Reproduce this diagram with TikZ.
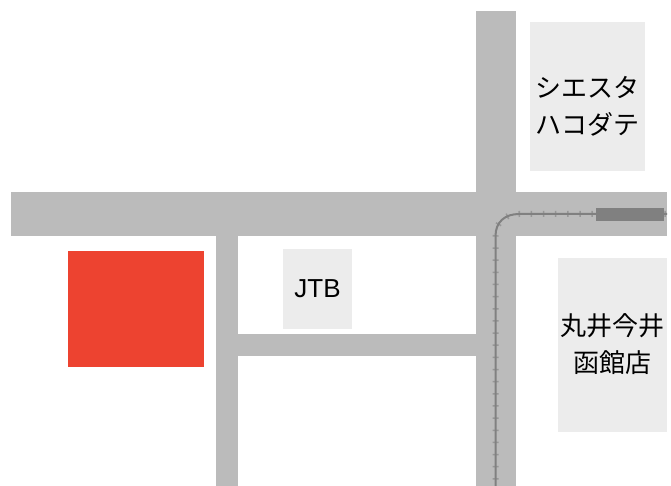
\documentclass[tikz,border=0pt]{standalone}
\usepackage{fontspec}
\setmainfont{Liberation Sans}
\newfontfamily\cjk{Noto Sans CJK JP}
\definecolor{road}{HTML}{BBBBBB}
\definecolor{bldg}{HTML}{ECECEC}
\definecolor{rail}{HTML}{808080}
\definecolor{redblock}{HTML}{ED4330}
\tikzset{
  roadbox/.style={fill=road,draw=none},
  bldgbox/.style={fill=bldg,draw=none,inner sep=0pt,text=black,align=center},
  jplabel/.style={inner sep=0pt,align=center,font=\cjk\fontsize{26}{37}\selectfont},
  lalabel/.style={font=\fontsize{26}{30}\selectfont}
}
\begin{document}
\begin{tikzpicture}[x=1pt,y=-1pt]
\useasboundingbox (0,0) rectangle (671,486);
\fill[roadbox] (11,192) rectangle (667,236);
\fill[roadbox] (476,11) rectangle (516,486);
\fill[roadbox] (216,236) rectangle (238,486);
\fill[roadbox] (238,334) rectangle (476,356);
\fill[redblock] (68,251) rectangle (204,367);
\node[bldgbox,minimum width=69pt,minimum height=80pt,lalabel] (jtb) at (317.5,289) {JTB};
\node[bldgbox,minimum width=115pt,minimum height=149pt] (siesta) at (587.5,96.5) {};
\node[jplabel] (siestatext) at (587,106) {シエスタ\\ハコダテ};
\node[bldgbox,minimum width=109pt,minimum height=174pt] (marui) at (612.5,345) {};
\node[jplabel] (maruitext) at (612,344) {丸井今井\\函館店};
\coordinate (railS) at (495.5,486);
\coordinate (railE) at (667,214);
\draw[rail,line width=2pt] (railS) -- (495.5,236) .. controls (495.5,222) and (505,214) .. (519,214) -- (railE);
\draw[rail,opacity=.6,line width=6pt,dash pattern=on 1.5pt off 10.65pt,dash phase=-6.4pt] (railS) -- (495.5,236) .. controls (495.5,222) and (505,214) .. (519,214) -- (railE);
\fill[rail] (596,208) rectangle (664,221);
\end{tikzpicture}
\end{document}
